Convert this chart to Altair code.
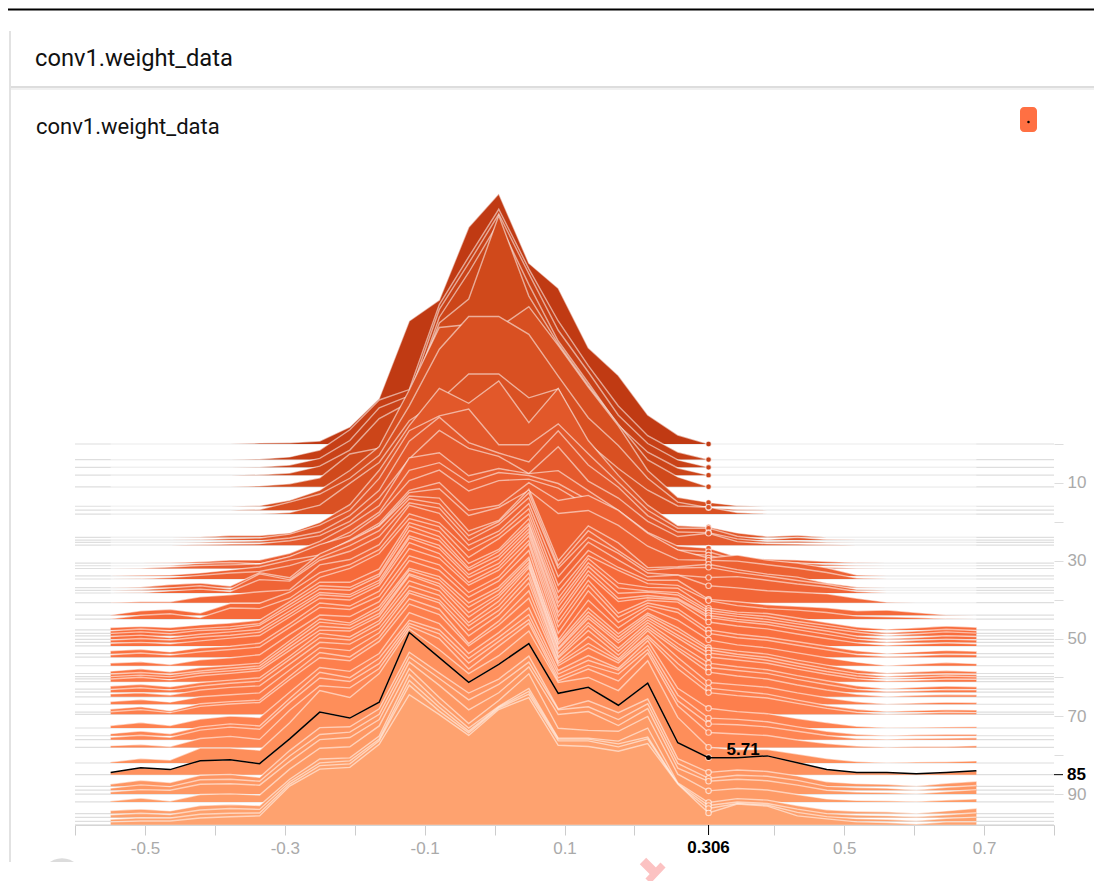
import altair as alt
import pandas as pd

TITLE = "conv1.weight_data"
bins = [-0.549,-0.506,-0.464,-0.421,-0.378,-0.336,-0.293,-0.25,-0.207,-0.165,-0.122,-0.079,-0.037,0.006,0.049,
        0.091,0.134,0.177,0.219,0.262,0.306,0.347,0.39,0.433,0.475,0.518,0.561,0.603,0.646,0.689]

h00=[0,0,0,0,0,.3,.4,1,5.7,15.3,41.3,48.3,72.7,84,60.7,52.3,32.3,23,9.7,3,0,0,0,0,0,0,0,0,0,0]
h04=[0,0,0,0,0,.2,.9,3.2,10,20,23.5,52,68,84,64,46.5,31.5,18,8,2.5,0,0,0,0,0,0,0,0,0,0]
h06=[0,0,0,0,0,.1,.8,3,9,20,24,53,68.5,85,65,46,32,17.5,8,2.5,0,0,0,0,0,0,0,0,0,0]
h08=[0,0,0,0,0,.1,.7,3,8.4,19,24.4,53,68,85,64,45,31,16.7,7.7,2.4,0,0,0,0,0,0,0,0,0,0]
h11=[0,0,0,0,0,.3,1,3,11,13,29,55,63,91,64,48,34,21,9,3.3,0,0,0,0,0,0,0,0,0,0]
h16=[0,0,0,0,0,.2,2,5.4,12,20,39,60,61,60,67,54,40,27,12,3,1.3,.2,0,0,0,0,0,0,0,0]
h17=[0,0,0,0,0,.2,2.7,5.4,10.7,18.4,35,54,65,65,59,45,31,21.7,10.7,2.7,.8,.2,0,0,0,0,0,0,0,0]
h18=[0,0,0,0,0,0,.5,3,10.3,17.3,31.3,38,47,47,39,42,23.7,15.3,8,2.7,2.3,.5,0,0,0,0,0,0,0,0]
h24a=[0,0,0,.1,.6,.6,1.5,5,11,22.5,37.5,50,45,52.5,38.5,50,32.5,20.8,10.8,4,3.5,1.5,.3,.7,0,0,0,0,0,0]
h24b=[0,0,0,.1,.5,.7,2,5,10,20.7,36.7,41.7,44,32,32,39,29,19.3,10,4,4,1.3,.2,.9,.2,0,0,0,0,0]
h25=[0,0,0,.1,.3,.5,1.5,3.5,9,17.5,34,42,33.5,30,27,37.5,26,18.5,9,3.5,3.3,1.2,.3,.5,.1,0,0,0,0,0]
h26=[0,0,0,.1,.4,.5,1.5,3.2,8,15.9,29,38.5,32.5,29.8,24,33,21.5,15.8,8,2.9,4,1.2,.5,.4,.1,0,0,0,0,0]
h30=[0,0,.1,.4,1,1,3.3,7.3,12.7,19.3,35.3,37,29.3,31.7,30,31,24.3,17.7,10.3,5.7,5,2,1.3,1,.5,.1,0,0,0,0]
h31=[0,0,.1,.8,1.1,.6,3,6.6,11.3,18,32,34.6,28,31.3,30.3,27.6,22,16.6,9.6,5.3,4.7,2,1.3,1,.4,.1,0,0,0,0]
h32=[0,.1,.5,1,1.2,1.5,4,8,11,18,29.5,33,26,29.5,30,27,21,16,9,5,4.5,1.8,1.2,.8,.3,.1,0,0,0,0]
h34a=[0,.2,.3,1,2,3,5.3,7,12,17.7,28.7,31.3,22,23.7,31.3,25.3,27,22,14.3,8.7,6,7,5.3,4.3,2.7,.3,0,0,0,0]
h34b=[0,.1,.5,1.2,2,2.5,4.5,7.5,12.5,18,29,30.3,21.3,24,29.7,22,23,18,11,6.5,6.3,6,4.8,3.6,2.2,.3,0,0,0,0]
h37a=[0,.2,1,1.5,.5,5,3.3,11.3,15.7,20.7,30.7,30,19,22.5,33,9,20.7,15,6.7,7,7.8,6,4.5,3.5,1.5,.2,0,0,0,0]
h37b=[0,.2,.8,1.5,.4,5.5,3.5,11,15,20,30.7,29,18.3,23,32.7,8.3,20,13.3,6.7,7.5,7.7,6,4.7,3.3,2,.3,0,0,0,0]
h38=[0,.1,.7,1.3,.5,4.5,4,11,14,19,30.3,28.5,17.7,23,32,8.3,18.7,13.3,6.7,6,5.2,5.5,4.3,3,2,.5,0,0,0,0]
h41=[.1,.3,.3,2,2.7,3.7,4.3,12.7,14.5,19.5,32.7,30,19.3,24,33.3,8.7,20.3,14.3,8.7,9.3,5.7,5,4,3.5,3,1.5,.2,0,0,0]
h44=[.1,1.5,2,.7,4,4,7.7,14.3,17,22,34,31,21.7,27,35.7,10,21.7,16,11.7,11.7,5.3,4.5,3.5,3,2.5,1.5,1.7,.9,.1,0]
h45=[.1,1.3,1.8,.5,3.7,3.5,7,14,17,22,33.7,31,20.7,27,35.3,9,21.3,16.3,11.9,11.3,6.2,4.5,3.5,3,2.2,1,.8,.5,.1,0]
h48a=[.8,1.2,.8,1.7,2.3,3.3,9.5,16,16,20.5,36,33,22.3,27,37.3,10.7,24,15.7,14.3,14,7.3,6,5.5,4,2.5,1,.2,.7,1.3,.9]
h48b=[.9,1.5,.9,1.7,2.3,3.3,9.7,16,15.5,20,36,32.5,22,27.5,37,10.3,23.7,15.3,14.3,13.7,7.7,6.5,5.7,4,2.7,1.2,.2,.8,1.4,1]
h49=[.8,1.3,.7,1.8,2.2,3.5,9.5,15.7,15.3,20,35.3,32,22,27,37,9.7,23.3,14.3,14.7,13.7,7.7,6.5,5.5,4,2.5,1.2,.1,.7,1.3,.9]
h50=[.9,1.4,.6,1.7,2.5,3.3,9.5,15.7,15,19.8,34.7,31.5,21.7,27,37,9,23,13.7,14.7,13.7,8,6.7,5.8,4.2,2.8,1,.2,.6,1.2,.9]
h51=[.8,1.3,.8,1.8,2.4,3.4,9.5,16,15.3,20,35,31.5,21.7,26.5,37,8.7,22.7,13.7,15,14.3,8.3,7,6,4.3,2.7,1.1,.1,.7,1.1,.8]
h52=[.9,1.2,.7,1.7,2.6,3.5,9.7,16,15.4,20.3,34.7,31,21.3,26.5,37,8,22,11,15.3,14.7,8,6.7,5.7,4,2.5,1,.2,.6,1,.7]
h54=[1,1.5,.6,2,2.5,3.5,10,17,16,21,35.3,32,23,28,38,9,23,12.3,17,15,8,6.5,5.5,4,2.5,1,.1,.6,1.1,.8]
h55=[.8,1.4,.7,1.8,2.6,3.4,10,16.7,16,20.5,34,31,21.7,27,38,8,22.3,11.7,17.3,15,8,6.5,5.7,4,2.5,.9,.2,.5,1,.8]
h57=[.9,1.3,.4,2,2.7,3.7,10.5,17,16.5,21.5,35.3,32,23,28.5,38.7,8.7,22,12.7,19.3,15.3,8.7,7,6,4.3,2.7,1.2,.1,.6,1.1,.7]
h59=[.8,1.6,.6,2,2.7,3.5,11,18.3,17,22.5,35.3,32.5,23.7,29,39,10.3,22,13.3,20.3,15.3,8.7,7.5,6.5,4.5,2.8,1.2,.2,.6,1,.7]
h60a=[.9,1.4,.7,1.9,2.8,3.6,11,18.3,17.3,22.5,35.7,32.5,23.3,29,39.3,10.7,21.7,13.3,20.7,15.3,9,7.5,6.5,4.5,2.7,1.1,.1,.6,.9,.7]
h60b=[.8,1.3,.7,2,2.7,3.6,10.7,17.7,17,22,35.3,32,22.3,28.5,39,10.3,21.3,13,20.7,14.7,8.7,7.5,6.3,4.3,2.5,1,.1,.5,1,.7]
h61=[.9,1.5,.6,2,2.8,3.7,10.5,17.3,17,22,35.7,32,21.7,28.5,39,10.7,21.3,13,20.7,14.7,8.3,7.3,6.2,4.2,2.5,1,.2,.5,.9,.8]
h63=[1,1.6,.8,2.2,3,3.8,11,18.7,17.5,23,36.3,33,22.3,29.5,40.7,12,22.3,13.7,22.3,15.3,8.7,7.5,6.5,4.5,2.8,1.1,.1,.6,1,.8]
h64=[.9,1.5,.7,2.1,3,3.7,11,18.3,17.5,23,35.7,32.5,22.3,29,40,12,22.3,13.7,22.3,15,8.3,7.3,6.3,4.3,2.6,1,.2,.5,.9,.8]
h65=[1,1.4,.6,2.3,3.2,3.7,11,18.3,17.7,23,35.7,32.5,22.3,29,40,13,22.3,14,23,15.7,8.3,7,6,4,2.3,.9,.1,.5,.8,.7]
h67=[.9,1.6,.7,2.5,3.2,3.8,11.5,19,18,24,37.3,34,23,30,40.7,14.3,22.7,15.3,24.7,15.7,7.3,6.5,5.7,3.8,2.2,.8,.1,.4,.7,.6]
h69a=[1,1.8,.4,2.8,3.5,4,12,20,18.5,25,38,34.5,23,30.5,40.7,16.3,23,17.3,25.7,16.3,8,7,6,4,2.2,.9,.2,.5,.8,.7]
h69b=[.9,1.6,.6,2.7,3.5,4,11.7,19,18,24.5,37,33.5,23,30,39,16.3,22.3,17.3,25.7,15.3,7.3,6.3,5.5,3.7,2,.7,.1,.4,.7,.6]
h73=[.8,1.8,.8,3,4,3.5,12,20.3,19,25,38.7,35,25,32,40.3,19.3,24.3,20,29.3,13.3,6.6,5.5,4.8,3.2,1.8,.6,.1,.2,.3,.4]
h75=[.7,1.6,.7,3,4,3.3,12.5,21.3,19.5,26,38.7,35.5,26,33,40.7,20.7,25.3,22,30.3,13.7,5.9,5.5,4.7,3,1.5,.5,.1,.3,.5,.5]
h76=[.8,1.5,.8,3.2,4.2,3.5,12.5,20.7,19.5,25.5,39,35.5,25.7,33,40.3,20.7,25,22,30.3,13,5.3,5,4.3,2.8,1.4,.4,.1,.4,.5,.6]
h78=[.6,1,.3,3,3.7,2.7,12.5,20.7,20,26.5,40.7,36.5,26.3,34,41.7,22.3,26.3,22.3,31.7,14,5,4.5,4,2.5,1.3,.5,.1,.3,.3,.6]
h82=[.3,1.5,1,5,5,4.3,13.5,24.3,22,30,45,38,30,36,44.3,27,28.7,24.3,34.3,15.3,5.3,4.5,4.5,3,1.5,.5,.1,.3,.4,.7]
h85=[.7,2.3,1.7,4.7,5,3.7,12,21,19,24.3,47.7,39.3,31,37,44,27.3,29.3,23.3,30.7,10.7,5.71,5.7,6.3,4,1.7,.7,.7,.3,.7,1.3]
h88=[.8,2,1.3,3.7,4,3,12,19.7,20,26,45,38,31.3,36,43.7,26,28.7,24.7,29.3,9.3,4.7,5.5,5,3.5,1.5,.9,.7,.1,1,1.7]
h89=[.7,1.8,1.2,3.5,3.7,3,11.5,18.7,19.5,25.5,44.7,37.5,30.3,35.5,43,27,28,23.7,29,9,4,5,4.7,3.3,1.3,.9,.7,.1,1,1.6]
h90=[.8,1.5,1.3,3.3,3.5,3,11,18.3,19,25,44.3,36.5,28.3,34,42.7,26.7,27.7,23,28.7,8.7,4.3,5,4.5,3,1.3,.7,.5,.1,.9,1.5]
h92=[.3,1.3,.3,2.5,2.7,2.3,11,18,18.5,25.5,44.7,35,26.3,34,43,24.7,24,23.7,28.7,9.3,3.7,4.5,4,2.5,1,.5,.4,.1,.6,1]
h95=[1,1.5,.9,2.7,3,2.7,11.5,18.3,18.7,26,46.7,37,28.7,36,42,25.3,25.3,24.3,28.7,10.3,3.7,5,4.5,2.7,1.3,.8,.6,.1,.9,1.8]
h96=[.9,1.4,1,2.5,3,2.7,12,18.3,19,26.3,46,37,29,37,42.3,26.3,26.3,24.7,27,11.3,4,5.2,4.7,2.8,1.3,.8,.6,.2,.9,1.6]
h97=[.7,1.2,1.1,2.4,2.7,2.8,12.5,18.7,19.3,27,45.7,37,29.7,38,42.7,27,27,25,27.7,12.3,4.3,6,5.5,3,1.6,.9,.7,.2,1,1.4]
h98=[1,1.3,1.3,2.3,2.7,3,13,18.7,19.3,27,43.7,37,30,38.7,42.7,26.7,26.3,24.7,27.3,13.7,4,7,6.3,3,2,1,.8,.3,1,1]

series = [
 (0,h00),(4,h04),(6,h06),(8,h08),(11,h11),(16,h16),(17,h17),(18,h18),(24,h24a),(24.7,h24b),(25.3,h25),(26,h26),
 (30.6,h30),(31.3,h31),(32,h32),(33.9,h34a),(34.7,h34b),(36.9,h37a),(37.6,h37b),(38.3,h38),(40.8,h41),(44,h44),(45,h45),
 (47.8,h48a),(48.7,h48b),(49.3,h49),(50.2,h50),(51,h51),(51.9,h52),(53.9,h54),(54.8,h55),(57,h57),(59,h59),(59.8,h60a),
 (60.4,h60b),(61.1,h61),(63,h63),(63.8,h64),(65,h65),(66.9,h67),(68.9,h69a),(69.5,h69b),(73,h73),(75,h75),(76,h76),(78,h78),
 (82,h82),(85,h85),(88,h88),(89,h89),(90,h90),(92,h92),(95,h95),(96,h96),(97,h97),(97.9,h98),
]
HOVER_STEP, HOVER_X, HOVER_VAL = 85, 0.306, 5.71
color_steps = [0, 12, 28, 50, 75, 98]
color_hex = ["#c03a13", "#d24a1c", "#e85c2f", "#fa6e3d", "#fe8452", "#fea26f"]
y_ticks = [0,10,20,30,40,50,60,70,80,90]
x_ticks = [-0.6,-0.5,-0.4,-0.3,-0.2,-0.1,0,0.1,0.2,0.4,0.5,0.6,0.7,0.8]

W, H = 979, 655
COUNT_TO_STEP = 2.98 / 3.89
xs = alt.Scale(domain=[-0.6, 0.8], nice=False, zero=False)
ys = alt.Scale(domain=[97.94, -70.44], nice=False, zero=False)
cs = alt.Scale(domain=color_steps, range=color_hex)
x_axis = alt.Axis(orient="bottom", values=x_ticks, title=None, domain=True, domainColor="#ccc", grid=False,
                  tickColor="#ccc", tickSize=10, labelColor="#aaa", labelFontSize=17, labelFont="Liberation Sans",
                  labelPadding=5, format=".1f", labelFlush=False, labelOverlap=False,
                  labelExpr="(abs(round(datum.value*10)) % 2 == 1) ? replace(datum.label, '\u2212', '-') : ''")
y_axis = alt.Axis(orient="right", values=y_ticks, title=None, domain=False, grid=False, tickColor="#ddd", tickSize=9,
                  labelColor="#aaa", labelFontSize=17, labelFont="Liberation Sans", labelPadding=4, labelOverlap=False,
                  labelExpr="datum.value % 20 == 10 ? datum.label : ''")
X = alt.X("x:Q", scale=xs, axis=x_axis)
Y = alt.Y("top:Q", scale=ys, axis=y_axis)
YS = alt.Y("step:Q", scale=ys, axis=y_axis)

layers = []
# the full-width baseline of every run
base_df = pd.DataFrame({"step": [s for s, _ in series]})
layers.append(alt.Chart(base_df).mark_rule(color="#dedede", strokeWidth=1.2).encode(
    y=YS, x=alt.X("a:Q", scale=xs, axis=x_axis), x2="b:Q").transform_calculate(a="-0.6", b="0.8"))

for step, vals in series:
    df = pd.DataFrame({"x": bins, "count": vals})
    df["step"] = step
    df["top"] = df["step"] - df["count"] * COUNT_TO_STEP
    c = alt.Chart(df)
    layers.append(c.mark_area(interpolate="linear", opacity=1).encode(
        x=X, y=Y, y2="step:Q", color=alt.Color("step:Q", scale=cs, legend=None)))
    layers.append(c.mark_line(color="#ffffff", strokeOpacity=0.55, strokeWidth=1.4).encode(x=X, y=Y))

# hover markers at x = 0.306
i_h = bins.index(HOVER_X)
marks = pd.DataFrame({"x": [HOVER_X] * len(series), "step": [s for s, _ in series],
                      "count": [v[i_h] for _, v in series]})
marks["top"] = marks["step"] - marks["count"] * COUNT_TO_STEP
layers.append(alt.Chart(marks).mark_point(filled=True, size=30, stroke="#ffffff", strokeOpacity=0.65, strokeWidth=1.1, opacity=1).encode(
    x=X, y=Y, color=alt.Color("step:Q", scale=cs, legend=None)))

# highlighted run
hv = dict(series)[HOVER_STEP]
hdf = pd.DataFrame({"x": bins, "count": hv})
hdf["top"] = HOVER_STEP - hdf["count"] * COUNT_TO_STEP
layers.append(alt.Chart(hdf).mark_line(color="#000000", strokeWidth=1.5).encode(x=X, y=Y))
pt = pd.DataFrame({"x": [HOVER_X], "top": [HOVER_STEP - HOVER_VAL * COUNT_TO_STEP], "lab": [f"{HOVER_VAL}"], "xl": [f"{HOVER_X}"], "sl": [f"{HOVER_STEP}"], "step": [HOVER_STEP]})
bold = dict(font="Liberation Sans", fontSize=17, fontWeight="bold", color="#000")
layers.append(alt.Chart(pt).mark_point(filled=True, size=24, color="#000000", opacity=1).encode(x=X, y=Y))
layers.append(alt.Chart(pt).mark_text(align="left", dx=18, dy=-8, **bold).encode(x=X, y=Y, text="lab:N"))
layers.append(alt.Chart(pt).mark_text(align="center", baseline="middle", **bold).encode(x=X, y=alt.value(H + 23), text="xl:N"))
layers.append(alt.Chart(pt).mark_rule(color="#000", strokeWidth=1).encode(x=X, y=alt.value(H), y2=alt.value(H + 10)))
layers.append(alt.Chart(pt).mark_rule(color="#000", strokeWidth=1).encode(x=alt.value(W), x2=alt.value(W + 9), y=YS))
layers.append(alt.Chart(pt).mark_text(align="left", baseline="middle", **bold).encode(x=alt.value(W + 13), y=YS, text="sl:N"))

# page furniture, placed relative to the plot origin at (75, 170)
one = alt.Chart(pd.DataFrame({"t": [TITLE]}))
def hline(x0, x1, y, col, w):
    return one.mark_rule(color=col, strokeWidth=w).encode(x=alt.value(x0 - 75), x2=alt.value(x1 - 75), y=alt.value(y - 170))
layers.append(hline(8, 1094, 9.5, "#000000", 2))
layers.append(hline(10, 1094, 87, "#dddddd", 2))
layers.append(hline(10, 1094, 89, "#f1f1f1", 2))
layers.append(one.mark_rule(color="#e2e2e2", strokeWidth=2).encode(x=alt.value(10 - 75), y=alt.value(31 - 170), y2=alt.value(862 - 170)))
layers.append(one.mark_text(font="Roboto", fontSize=23.7, color="#111", align="left", baseline="middle").encode(x=alt.value(35 - 75), y=alt.value(59 - 170), text="t:N"))
layers.append(one.mark_text(font="Roboto", fontSize=22, color="#111", align="left", baseline="middle").encode(x=alt.value(36 - 75), y=alt.value(127 - 170), text="t:N"))
layers.append(one.mark_rect(color="#ff7043", cornerRadius=4).encode(
    x=alt.value(1020 - 75), x2=alt.value(1037 - 75), y=alt.value(107 - 170), y2=alt.value(132 - 170)))
layers.append(one.mark_point(filled=True, size=6, color="#000", opacity=1).encode(x=alt.value(1028.5 - 75), y=alt.value(122 - 170)))
layers.append(one.mark_point(filled=True, size=1735, color="#dcdcdc", opacity=1).encode(x=alt.value(62 - 75), y=alt.value(879 - 170)))
layers.append(one.mark_rect(color="#ffffff").encode(x=alt.value(8 - 75), x2=alt.value(1094 - 75), y=alt.value(862 - 170), y2=alt.value(881 - 170)))
layers.append(one.mark_rule(color="#fcc2c2", strokeWidth=9).encode(x=alt.value(643 - 75), x2=alt.value(656 - 75), y=alt.value(861 - 170), y2=alt.value(874 - 170)))
layers.append(one.mark_rule(color="#fcc2c2", strokeWidth=7).encode(x=alt.value(663 - 75), x2=alt.value(648 - 75), y=alt.value(865 - 170), y2=alt.value(881 - 170)))

chart = alt.layer(*layers).resolve_scale(color="shared", x="shared", y="shared").properties(
    width=W, height=H, autosize=alt.AutoSizeParams(type="none"),
    padding={"left": 67, "top": 162, "right": 40, "bottom": 56},
).configure_view(stroke=None)
chart.save("out.html", embed_options={"renderer": "svg", "actions": False})
